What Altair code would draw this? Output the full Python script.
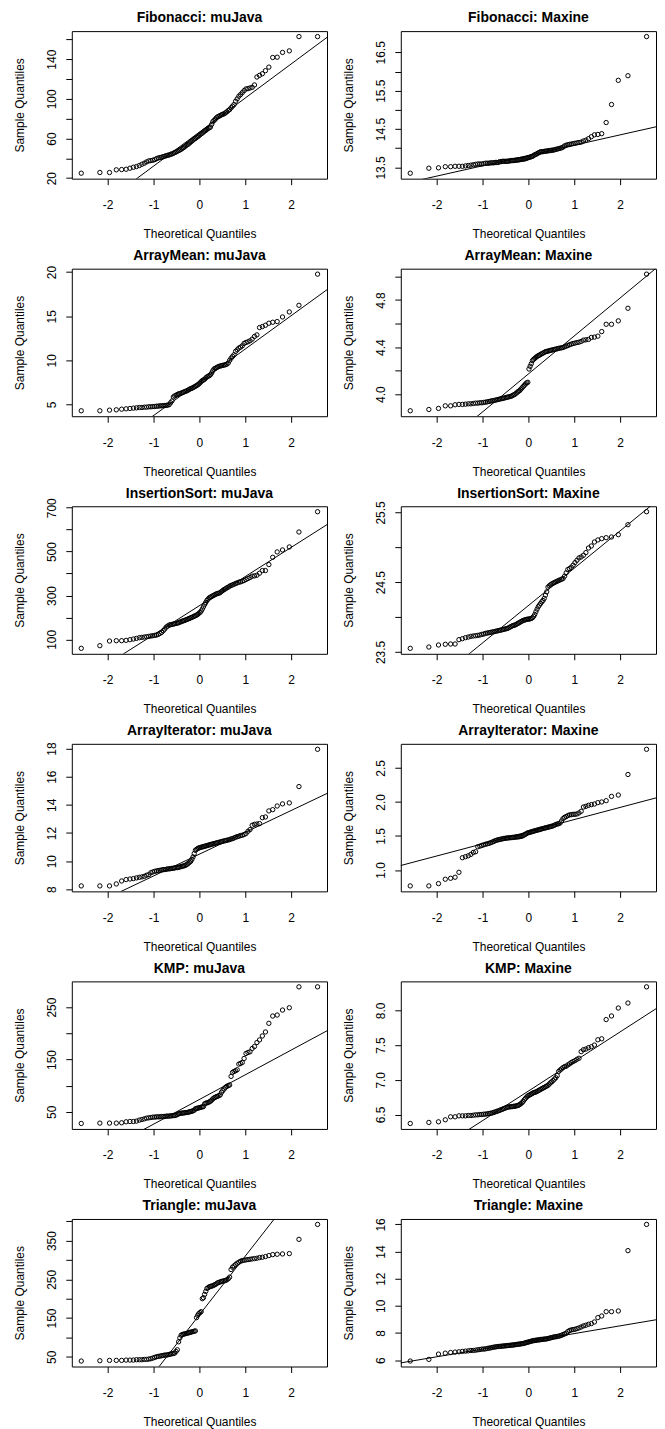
import json
from statistics import NormalDist

import altair as alt
import numpy as np
import pandas as pd

# ---------------- data (sample quantiles, sorted) ----------------
titles = ["Fibonacci: muJava", "Fibonacci: Maxine",
          "ArrayMean: muJava", "ArrayMean: Maxine",
          "InsertionSort: muJava", "InsertionSort: Maxine",
          "ArrayIterator: muJava", "ArrayIterator: Maxine",
          "KMP: muJava", "KMP: Maxine",
          "Triangle: muJava", "Triangle: Maxine"]

fib_mujava = [25.0, 25.7, 25.7, 28.4, 28.7, 29.0, 30.0, 31.0, 31.7, 32.7,
              34.0, 35.1, 36.4, 37.4, 37.7, 38.1, 38.7, 39.7, 40.4, 40.7,
              41.1, 41.7, 42.1, 42.7, 43.1, 43.4, 44.1, 44.4, 45.1, 45.8,
              46.4, 47.1, 47.8, 48.4, 49.1, 50.1, 50.8, 51.8, 52.8, 53.8,
              54.4, 55.5, 56.5, 57.5, 58.5, 59.5, 60.1, 61.1, 61.8, 62.8,
              63.8, 64.8, 65.5, 66.5, 67.5, 68.2, 69.2, 70.2, 70.8, 71.5,
              74.2, 76.9, 78.2, 79.5, 80.9, 81.9, 82.5, 83.2, 83.9, 84.5,
              84.9, 85.9, 86.9, 88.2, 89.2, 91.0, 92.6, 94.2, 97.6, 100.0,
              102.6, 104.3, 106.3, 108.3, 110.0, 110.3, 111.0, 111.6, 114.0, 122.0,
              123.7, 125.3, 128.4, 132.0, 141.7, 142.0, 146.8, 148.4, 162.8, 162.8]

fib_maxine = [13.35, 13.48, 13.49, 13.52, 13.52, 13.53, 13.53, 13.53, 13.54, 13.55,
              13.56, 13.57, 13.58, 13.59, 13.59, 13.59, 13.60, 13.61, 13.61, 13.61,
              13.62, 13.62, 13.62, 13.63, 13.63, 13.63, 13.65, 13.65, 13.66, 13.66,
              13.66, 13.66, 13.66, 13.67, 13.67, 13.68, 13.68, 13.68, 13.69, 13.69,
              13.69, 13.70, 13.70, 13.71, 13.71, 13.72, 13.72, 13.73, 13.74, 13.75,
              13.76, 13.77, 13.78, 13.79, 13.81, 13.83, 13.84, 13.86, 13.88, 13.89,
              13.91, 13.91, 13.91, 13.92, 13.92, 13.93, 13.93, 13.94, 13.94, 13.95,
              13.95, 13.96, 13.97, 13.98, 13.99, 14.00, 14.01, 14.03, 14.06, 14.08,
              14.09, 14.10, 14.11, 14.12, 14.13, 14.14, 14.15, 14.16, 14.19, 14.21,
              14.25, 14.30, 14.35, 14.36, 14.38, 14.67, 15.14, 15.77, 15.89, 16.91]

am_mujava = [4.29, 4.29, 4.36, 4.40, 4.47, 4.51, 4.55, 4.59, 4.62, 4.66,
             4.66, 4.70, 4.70, 4.74, 4.74, 4.77, 4.77, 4.81, 4.81, 4.85,
             4.85, 4.87, 4.88, 4.90, 4.93, 4.99, 5.20, 5.40, 5.85, 5.98,
             6.05, 6.13, 6.20, 6.24, 6.28, 6.35, 6.39, 6.47, 6.50, 6.58,
             6.65, 6.73, 6.80, 6.84, 6.92, 6.99, 7.07, 7.14, 7.22, 7.33,
             7.44, 7.59, 7.71, 7.78, 7.86, 8.01, 8.12, 8.20, 8.27, 8.38,
             8.57, 8.83, 9.02, 9.10, 9.17, 9.25, 9.32, 9.36, 9.40, 9.44,
             9.47, 9.51, 9.58, 9.70, 10.00, 10.25, 10.45, 10.64, 11.02, 11.20,
             11.39, 11.50, 11.65, 11.92, 12.03, 12.11, 12.22, 12.41, 12.71, 12.89,
             13.72, 13.83, 13.98, 14.21, 14.32, 14.40, 14.92, 15.49, 16.24, 19.77]

am_maxine = [3.859, 3.870, 3.879, 3.901, 3.901, 3.910, 3.913, 3.913, 3.915, 3.918,
             3.918, 3.921, 3.924, 3.924, 3.927, 3.927, 3.930, 3.932, 3.935, 3.938,
             3.941, 3.944, 3.946, 3.949, 3.952, 3.955, 3.958, 3.961, 3.963, 3.966,
             3.969, 3.972, 3.975, 3.977, 3.980, 3.983, 3.989, 3.994, 4.000, 4.008,
             4.017, 4.025, 4.031, 4.042, 4.054, 4.065, 4.076, 4.087, 4.096, 4.101,
             4.214, 4.237, 4.259, 4.285, 4.296, 4.304, 4.313, 4.321, 4.327, 4.332,
             4.338, 4.344, 4.349, 4.355, 4.361, 4.363, 4.366, 4.369, 4.372, 4.375,
             4.377, 4.380, 4.383, 4.386, 4.389, 4.392, 4.394, 4.397, 4.403, 4.408,
             4.414, 4.420, 4.425, 4.431, 4.434, 4.439, 4.442, 4.448, 4.459, 4.462,
             4.465, 4.482, 4.485, 4.493, 4.532, 4.594, 4.594, 4.623, 4.730, 5.020]

is_mujava = [59.1, 71.2, 92.4, 93.9, 93.9, 95.5, 98.5, 101.5, 104.5, 107.6,
             109.1, 110.6, 112.1, 113.6, 115.2, 116.7, 118.2, 119.7, 122.7, 127.3,
             131.8, 139.4, 147.0, 156.1, 160.6, 165.2, 166.7, 168.2, 169.7, 171.2,
             172.7, 174.2, 175.8, 178.8, 180.3, 183.3, 184.8, 186.4, 189.4, 190.9,
             193.9, 195.5, 198.5, 200.0, 203.0, 206.1, 207.6, 210.6, 213.6, 218.2,
             222.7, 228.8, 237.9, 248.5, 259.1, 268.2, 277.3, 283.3, 289.4, 292.4,
             295.4, 298.5, 301.5, 304.5, 307.6, 309.1, 310.6, 313.6, 318.2, 322.7,
             327.3, 330.3, 334.8, 337.9, 342.4, 345.4, 348.5, 351.5, 354.5, 357.6,
             360.6, 362.1, 365.1, 368.2, 372.7, 377.3, 381.8, 387.9, 389.4, 392.4,
             401.5, 413.6, 413.6, 441.0, 474.2, 498.5, 507.5, 521.2, 589.4, 681.8]

is_maxine = [23.552, 23.571, 23.600, 23.610, 23.614, 23.614, 23.676, 23.690, 23.705, 23.714,
             23.724, 23.729, 23.733, 23.738, 23.743, 23.752, 23.757, 23.767, 23.771, 23.776,
             23.781, 23.786, 23.790, 23.795, 23.800, 23.805, 23.810, 23.814, 23.819, 23.824,
             23.829, 23.833, 23.838, 23.848, 23.857, 23.867, 23.876, 23.881, 23.886, 23.895,
             23.905, 23.914, 23.924, 23.933, 23.943, 23.952, 23.957, 23.962, 23.967, 23.971,
             23.971, 23.976, 23.981, 23.990, 24.010, 24.038, 24.076, 24.114, 24.148, 24.171,
             24.195, 24.219, 24.238, 24.267, 24.314, 24.362, 24.429, 24.448, 24.462, 24.476,
             24.486, 24.495, 24.505, 24.514, 24.524, 24.533, 24.543, 24.552, 24.586, 24.633,
             24.681, 24.695, 24.714, 24.743, 24.781, 24.814, 24.848, 24.862, 24.886, 24.924,
             24.990, 25.019, 25.076, 25.105, 25.124, 25.138, 25.148, 25.181, 25.324, 25.510]

ai_mujava = [8.24, 8.24, 8.24, 8.38, 8.59, 8.69, 8.73, 8.76, 8.81, 8.85,
             8.88, 8.92, 9.00, 9.04, 9.18, 9.23, 9.28, 9.30, 9.33, 9.35,
             9.37, 9.40, 9.40, 9.42, 9.45, 9.45, 9.47, 9.49, 9.49, 9.52,
             9.54, 9.54, 9.56, 9.59, 9.61, 9.64, 9.66, 9.68, 9.73, 9.78,
             9.85, 9.92, 9.99, 10.13, 10.30, 10.54, 10.77, 10.84, 10.89, 10.94,
             10.96, 10.99, 11.01, 11.03, 11.06, 11.08, 11.10, 11.13, 11.15, 11.18,
             11.20, 11.22, 11.25, 11.27, 11.29, 11.32, 11.34, 11.36, 11.39, 11.41,
             11.44, 11.46, 11.48, 11.51, 11.53, 11.58, 11.60, 11.65, 11.70, 11.74,
             11.77, 11.82, 11.84, 11.89, 11.96, 12.12, 12.24, 12.55, 12.62, 12.64,
             12.67, 13.09, 13.14, 13.57, 13.66, 13.92, 14.07, 14.14, 15.30, 17.95]

ai_maxine = [0.766, 0.766, 0.800, 0.864, 0.878, 0.893, 0.966, 1.180, 1.195, 1.209,
             1.229, 1.258, 1.268, 1.341, 1.350, 1.360, 1.370, 1.378, 1.385, 1.392,
             1.400, 1.410, 1.420, 1.430, 1.438, 1.443, 1.448, 1.453, 1.458, 1.462,
             1.465, 1.468, 1.470, 1.472, 1.474, 1.476, 1.478, 1.480, 1.482, 1.484,
             1.486, 1.488, 1.490, 1.493, 1.497, 1.507, 1.516, 1.526, 1.536, 1.546,
             1.550, 1.555, 1.560, 1.565, 1.570, 1.575, 1.580, 1.585, 1.589, 1.594,
             1.599, 1.604, 1.609, 1.614, 1.619, 1.623, 1.628, 1.633, 1.638, 1.643,
             1.648, 1.658, 1.668, 1.675, 1.680, 1.690, 1.721, 1.755, 1.774, 1.784,
             1.799, 1.809, 1.813, 1.818, 1.818, 1.823, 1.838, 1.862, 1.925, 1.935,
             1.950, 1.960, 1.969, 1.989, 1.999, 2.018, 2.081, 2.101, 2.403, 2.773]

kmp_mujava = [27.8, 28.5, 28.5, 28.5, 29.1, 31.0, 31.6, 31.6, 32.3, 34.2,
              35.4, 36.7, 38.0, 38.6, 39.2, 39.9, 39.9, 40.5, 40.5, 40.5,
              41.1, 41.1, 41.1, 41.8, 41.8, 41.8, 42.4, 42.4, 43.0, 43.0,
              43.7, 44.9, 46.2, 46.8, 47.5, 47.5, 48.1, 48.1, 48.7, 48.7,
              49.4, 50.0, 50.6, 51.3, 51.9, 53.2, 55.7, 56.3, 57.0, 57.6,
              58.2, 58.9, 59.5, 60.1, 65.2, 66.5, 67.1, 67.7, 69.0, 70.3,
              72.2, 74.7, 76.6, 77.8, 79.1, 79.7, 81.0, 82.3, 87.3, 90.5,
              93.7, 96.8, 98.7, 100.0, 101.3, 117.7, 125.3, 127.2, 128.5, 130.4,
              141.1, 142.4, 144.3, 151.9, 161.4, 163.3, 164.6, 170.9, 174.7, 182.3,
              187.3, 194.9, 202.5, 219.0, 232.9, 234.8, 244.3, 248.7, 288.6, 288.6]

kmp_maxine = [6.371, 6.386, 6.395, 6.424, 6.467, 6.467, 6.481, 6.481, 6.481, 6.486,
              6.486, 6.490, 6.495, 6.495, 6.500, 6.500, 6.505, 6.505, 6.510, 6.514,
              6.519, 6.522, 6.530, 6.538, 6.545, 6.552, 6.560, 6.568, 6.576, 6.584,
              6.592, 6.600, 6.605, 6.610, 6.610, 6.614, 6.614, 6.619, 6.619, 6.624,
              6.629, 6.633, 6.643, 6.657, 6.671, 6.690, 6.714, 6.733, 6.752, 6.767,
              6.776, 6.786, 6.795, 6.805, 6.814, 6.819, 6.824, 6.833, 6.843, 6.852,
              6.862, 6.871, 6.881, 6.890, 6.900, 6.910, 6.919, 6.938, 6.957, 6.971,
              6.990, 7.010, 7.029, 7.060, 7.120, 7.140, 7.157, 7.176, 7.190, 7.195,
              7.214, 7.229, 7.248, 7.262, 7.276, 7.295, 7.310, 7.405, 7.433, 7.443,
              7.462, 7.476, 7.500, 7.576, 7.590, 7.867, 7.919, 8.033, 8.105, 8.338]

tri_mujava = [38.9, 39.7, 40.6, 40.6, 40.6, 41.4, 41.4, 41.4, 42.3, 42.3,
              42.3, 43.1, 43.1, 44.0, 44.9, 46.6, 48.3, 50.0, 50.9, 51.7,
              52.6, 53.4, 54.3, 54.3, 55.1, 56.0, 56.9, 57.7, 58.6, 59.4,
              63.7, 68.0, 88.6, 98.8, 105.7, 107.4, 108.3, 109.1, 110.0, 110.8,
              111.7, 112.6, 113.4, 114.3, 115.1, 116.0, 116.8, 151.1, 157.1, 161.4,
              164.0, 166.5, 200.0, 202.5, 211.1, 218.8, 226.5, 228.2, 230.8, 231.7,
              232.5, 233.4, 235.1, 236.8, 238.5, 241.1, 241.9, 243.7, 244.5, 245.4,
              246.2, 247.1, 248.8, 251.4, 255.7, 275.4, 281.4, 284.8, 288.2, 291.6,
              294.2, 296.8, 298.5, 299.4, 300.2, 301.1, 301.9, 302.8, 303.6, 304.5,
              306.2, 307.1, 308.8, 311.4, 313.9, 314.8, 315.6, 316.5, 353.3, 391.9]

tri_maxine = [5.93, 6.05, 6.44, 6.51, 6.56, 6.59, 6.61, 6.64, 6.66, 6.68,
              6.71, 6.71, 6.73, 6.76, 6.78, 6.81, 6.81, 6.83, 6.86, 6.88,
              6.90, 6.93, 6.95, 6.97, 6.99, 7.00, 7.01, 7.02, 7.03, 7.04,
              7.05, 7.06, 7.07, 7.08, 7.09, 7.10, 7.11, 7.12, 7.13, 7.15,
              7.16, 7.17, 7.18, 7.20, 7.21, 7.22, 7.25, 7.27, 7.30, 7.32,
              7.34, 7.37, 7.39, 7.42, 7.44, 7.44, 7.47, 7.47, 7.49, 7.49,
              7.52, 7.52, 7.54, 7.54, 7.56, 7.56, 7.59, 7.61, 7.64, 7.66,
              7.69, 7.71, 7.72, 7.74, 7.76, 7.79, 7.83, 7.88, 7.93, 7.98,
              8.10, 8.18, 8.22, 8.25, 8.27, 8.32, 8.37, 8.44, 8.52, 8.57,
              8.64, 8.69, 8.81, 9.13, 9.25, 9.57, 9.57, 9.62, 14.07, 16.00]

series = [fib_mujava, fib_maxine, am_mujava, am_maxine, is_mujava, is_maxine,
          ai_mujava, ai_maxine, kmp_mujava, kmp_maxine, tri_mujava, tri_maxine]

# y tick positions and the subset that carries a label (R drops crowded labels)
y_ticks = [[20, 40, 60, 80, 100, 120, 140, 160], [13.5, 14.0, 14.5, 15.0, 15.5, 16.0, 16.5],
           [5, 10, 15, 20], [4.0, 4.2, 4.4, 4.6, 4.8, 5.0],
           [100, 200, 300, 400, 500, 600, 700], [23.5, 24.0, 24.5, 25.0, 25.5],
           [8, 10, 12, 14, 16, 18], [1.0, 1.5, 2.0, 2.5],
           [50, 100, 150, 200, 250], [6.5, 7.0, 7.5, 8.0],
           [50, 100, 150, 200, 250, 300, 350, 400], [6, 8, 10, 12, 14, 16]]
y_labels = [[20, 60, 100, 140], [13.5, 14.5, 15.5, 16.5],
            [5, 10, 15, 20], [4.0, 4.4, 4.8],
            [100, 300, 500, 700], [23.5, 24.5, 25.5],
            [8, 10, 12, 14, 16, 18], [1.0, 1.5, 2.0, 2.5],
            [50, 150, 250], [6.5, 7.0, 7.5, 8.0],
            [50, 150, 250, 350], [6, 8, 10, 12, 14, 16]]
y_formats = [".0f", ".1f", ".0f", ".1f", ".0f", ".1f", ".0f", ".1f", ".0f", ".1f", ".0f", ".0f"]
x_ticks = [-2, -1, 0, 1, 2]

# ---------------- chart ----------------
W, H = 256, 148
FONT = "Liberation Sans"
nd = NormalDist()


def panel(name, values, ticks, labels, fmt):
    n = len(values)
    v = np.asarray(values, dtype=float)
    t_max = nd.inv_cdf((n - 0.5) / n)
    xr = 2 * t_max
    xdom = [float(-t_max - 0.04 * xr), float(t_max + 0.04 * xr)]
    yr = float(v.max() - v.min())
    ydom = [float(v.min()) - 0.04 * yr, float(v.max()) + 0.04 * yr]

    # qqline through the first and third quartiles
    q1, q3 = [float(q) for q in np.percentile(v, [25, 75])]
    z = nd.inv_cdf(0.75)
    slope = (q3 - q1) / (2 * z)
    icpt = q1 + slope * z

    xaxis = alt.Axis(values=x_ticks, title="Theoretical Quantiles",
                     labelExpr="'' + datum.value", labelBaseline="alphabetic",
                     labelPadding=24, labelFlush=False, labelOverlap=False,
                     titleX=W / 2, titleY=59, titleAlign="center", titleBaseline="alphabetic")
    lab_expr = "indexof(%s, datum.value) >= 0 ? format(datum.value, '%s') : ''" % (
        json.dumps(labels), fmt)
    yaxis = alt.Axis(values=ticks, title="Sample Quantiles", labelExpr=lab_expr,
                     labelAngle=270, labelAlign="center", labelBaseline="alphabetic",
                     labelPadding=10.5, labelFlush=False, labelOverlap=False, labelBound=False,
                     titleX=-48.4, titleY=H / 2, titleAngle=270, titleAlign="center",
                     titleBaseline="alphabetic")

    xs = alt.X("theoretical:Q", scale=alt.Scale(domain=xdom, nice=False, zero=False), axis=xaxis)
    ys = alt.Y("sample:Q", scale=alt.Scale(domain=ydom, nice=False, zero=False), axis=yaxis)

    pts = (alt.Chart(pd.DataFrame({"sample": values}))
           .transform_window(rank="row_number()", sort=[alt.SortField("sample")])
           .transform_calculate(theoretical="quantileNormal((datum.rank - 0.5) / %d)" % n)
           .mark_point(shape="circle", filled=False, size=19, strokeWidth=1,
                       color="black", opacity=1)
           .encode(x=xs, y=ys))

    line_df = pd.DataFrame({"theoretical": [xdom[0] - 1, xdom[1] + 1]})
    line = (alt.Chart(line_df)
            .transform_calculate(sample="%.6f + %.6f * datum.theoretical" % (icpt, slope))
            .mark_line(color="black", strokeWidth=1, clip=True)
            .encode(x=xs, y=ys))

    ttl = (alt.Chart(pd.DataFrame({"label": [name]}))
           .mark_text(font=FONT, fontSize=14, fontWeight="bold", color="black",
                      align="center", baseline="alphabetic")
           .encode(text="label:N", x=alt.value(W / 2), y=alt.value(-8.7)))

    return alt.layer(pts, line, ttl).properties(width=W, height=H)


panels = [panel(titles[k], series[k], y_ticks[k], y_labels[k], y_formats[k])
          for k in range(len(titles))]

chart = (alt.concat(*panels, columns=2, spacing={"row": 90.3, "column": 74}, bounds="flush")
         .properties(padding={"left": 5, "top": 0, "right": 0, "bottom": 0}, background="white")
         .configure_view(stroke="black", strokeWidth=1)
         .configure_axis(domain=False, grid=False, ticks=True, tickSize=6, tickWidth=1,
                         tickColor="black", labelFont=FONT, labelFontSize=12, labelColor="black",
                         titleFont=FONT, titleFontSize=12, titleFontWeight="normal",
                         titleColor="black"))

chart.save("out.html", embed_options={"renderer": "svg", "actions": False})
